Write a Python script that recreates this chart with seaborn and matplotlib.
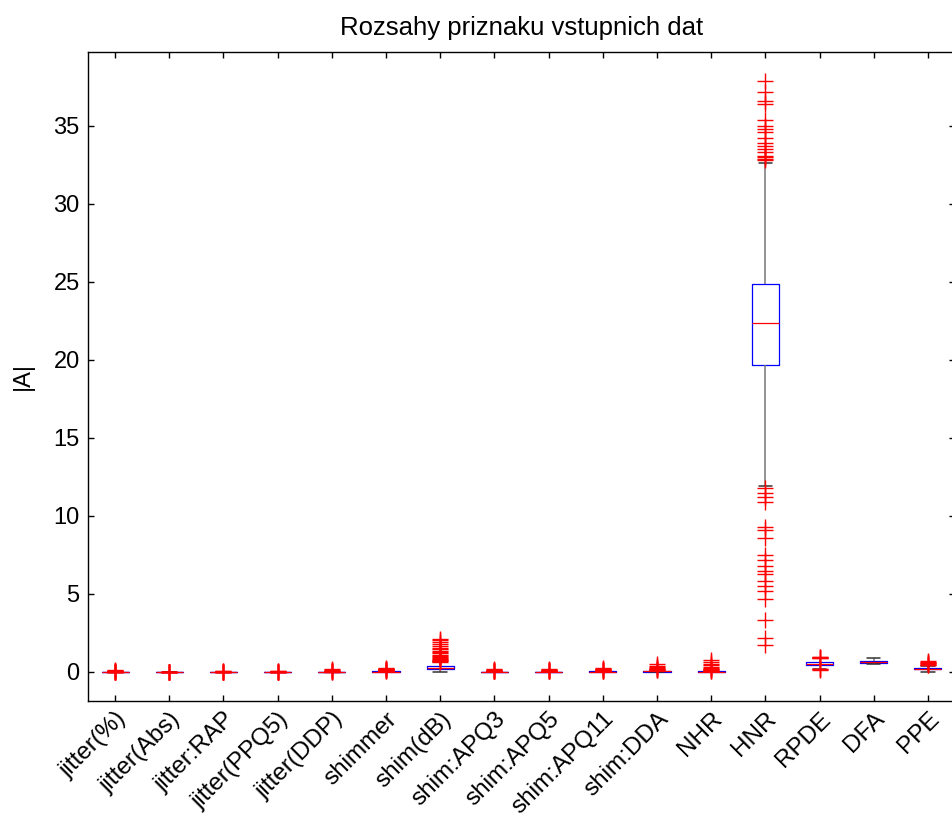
import numpy as np
import pandas as pd
import matplotlib
matplotlib.use("Agg")
import matplotlib.pyplot as plt
import seaborn as sns

features = ["jitter(%)", "jitter(Abs)", "jitter:RAP", "jitter(PPQ5)", "jitter(DDP)",
            "shimmer", "shim(dB)", "shim:APQ3", "shim:APQ5", "shim:APQ11",
            "shim:DDA", "NHR", "HNR", "RPDE", "DFA", "PPE"]

q1 = [0.0036, 0.00002, 0.0016, 0.0018, 0.0048, 0.019, 0.18, 0.0093, 0.0108, 0.0157,
      0.028, 0.011, 19.7, 0.47, 0.60, 0.16]
med = [0.0049, 0.00003, 0.0023, 0.0026, 0.0070, 0.0275, 0.25, 0.0137, 0.0159, 0.0226,
       0.041, 0.018, 22.35, 0.54, 0.64, 0.205]
q3 = [0.0068, 0.00005, 0.0033, 0.0037, 0.0100, 0.040, 0.36, 0.0205, 0.0236, 0.0329,
      0.062, 0.032, 24.9, 0.64, 0.71, 0.26]
whisk_lo = [0.0008, 0.000002, 0.0003, 0.0004, 0.001, 0.003, 0.03, 0.0015, 0.002, 0.0025,
            0.0045, 0.0003, 11.95, 0.22, 0.51, 0.022]
whisk_hi = [0.0115, 0.00009, 0.0058, 0.0065, 0.0175, 0.071, 0.62, 0.037, 0.042, 0.058,
            0.112, 0.062, 32.65, 0.89, 0.87, 0.40]

out_jitter_pct = [0.013, 0.016, 0.02, 0.025, 0.03, 0.04, 0.055, 0.07, 0.085, 0.099]
out_jitter_abs = [0.0001, 0.00012, 0.00015, 0.0002, 0.00025, 0.0003, 0.0004, 0.00045]
out_jitter_rap = [0.007, 0.009, 0.012, 0.016, 0.02, 0.03, 0.04, 0.057]
out_jitter_ppq5 = [0.0075, 0.009, 0.012, 0.016, 0.022, 0.03, 0.045, 0.069]
out_jitter_ddp = [0.02, 0.026, 0.035, 0.05, 0.065, 0.09, 0.12, 0.17]
out_shimmer = [0.075, 0.085, 0.1, 0.12, 0.14, 0.16, 0.19, 0.22, 0.27]
out_shim_db = [0.66, 0.7, 0.75, 0.8, 0.86, 0.92, 0.98, 1.05, 1.12, 1.2, 1.28, 1.35,
               1.45, 1.55, 1.65, 1.78, 1.9, 2.02, 2.11]
out_apq3 = [0.04, 0.05, 0.06, 0.075, 0.09, 0.11, 0.13, 0.163]
out_apq5 = [0.045, 0.055, 0.065, 0.08, 0.1, 0.12, 0.14, 0.167]
out_apq11 = [0.062, 0.075, 0.09, 0.11, 0.14, 0.18, 0.22, 0.275]
out_dda = [0.12, 0.14, 0.17, 0.2, 0.25, 0.3, 0.38, 0.488]
out_nhr = [0.07, 0.09, 0.12, 0.16, 0.2, 0.26, 0.33, 0.42, 0.52, 0.62, 0.749]
out_hnr = [37.9, 37.2, 36.6, 36.4, 35.4, 35.0, 34.8, 34.6, 34.2, 33.9, 33.7, 33.5,
           33.3, 33.1, 33.0, 32.9, 32.8,
           11.8, 11.5, 11.2, 10.9, 9.3, 9.1, 8.6, 7.5, 7.2, 6.8, 6.5, 6.3, 5.8,
           5.5, 5.2, 4.7, 3.3, 2.2, 1.7]
out_rpde = [0.90, 0.92, 0.94, 0.966, 0.151, 0.18, 0.20]
out_dfa = []
out_ppe = [0.43, 0.46, 0.5, 0.55, 0.6, 0.66, 0.73]

outliers = [out_jitter_pct, out_jitter_abs, out_jitter_rap, out_jitter_ppq5, out_jitter_ddp,
            out_shimmer, out_shim_db, out_apq3, out_apq5, out_apq11, out_dda, out_nhr,
            out_hnr, out_rpde, out_dfa, out_ppe]

# Build long-form samples whose Tukey box statistics equal the values read above
K = 60
rows = []
for i, f in enumerate(features):
    vals = ([whisk_lo[i]] + [q1[i]] * K + [med[i]] * K + [q3[i]] * K +
            [whisk_hi[i]] + list(outliers[i]))
    rows += [(f, v) for v in vals]
df = pd.DataFrame(rows, columns=["feature", "value"])

sns.set_theme(style="white")
plt.rcParams["font.family"] = ["Liberation Sans", "DejaVu Sans"]
plt.rcParams["text.color"] = "black"
plt.rcParams["axes.labelcolor"] = "black"
plt.rcParams["xtick.color"] = "black"
plt.rcParams["ytick.color"] = "black"

fig = plt.figure(figsize=(9.52, 8.24), dpi=100)
ax = fig.add_axes([88 / 952, 1 - 701 / 824, (955 - 88) / 952, (701 - 52) / 824])

sns.boxplot(data=df, x="feature", y="value", order=features, ax=ax,
            width=0.5, fill=False, color="blue", linewidth=0.9, whis=1.5,
            fliersize=12,
            medianprops=dict(color="red", linewidth=0.9),
            whiskerprops=dict(color="#777777", linewidth=1.1, linestyle="-"),
            capprops=dict(color="#333333", linewidth=1.1),
            flierprops=dict(marker="+", markeredgecolor="red", markerfacecolor="red",
                            markersize=12, markeredgewidth=1.0))

ax.set_xlim(-0.5, 15.5)
ax.set_ylim(-1.86, 39.74)
ax.set_yticks([0, 5, 10, 15, 20, 25, 30, 35])
ax.set_xticks(range(len(features)))
ax.set_xticklabels(features, rotation=45, ha="right", va="top",
                   rotation_mode="anchor", fontsize=17.5)
ax.tick_params(axis="y", labelsize=17, pad=6)
ax.tick_params(axis="x", pad=5)
ax.tick_params(direction="in", length=4, width=1, color="black",
               bottom=True, top=True, left=True, right=True)
ax.set_xlabel("")
ax.set_ylabel("|A|", fontsize=17, labelpad=14)
ax.set_title("Rozsahy priznaku vstupnich dat", fontsize=18.5, pad=12)
for s in ax.spines.values():
    s.set_color("black")
    s.set_linewidth(1.0)
    s.set_visible(True)
ax.grid(False)

fig.savefig("out.png", dpi=100, facecolor="white")
